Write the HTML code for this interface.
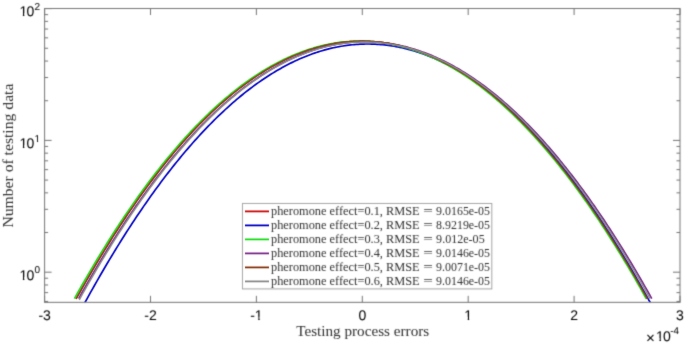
<!DOCTYPE html>
<html><head><meta charset="utf-8"><style>
html,body{margin:0;padding:0;background:#fff;width:685px;height:345px;overflow:hidden}
svg{display:block}
</style></head><body>
<svg width="685" height="345" viewBox="0 0 685 345">
<rect width="685" height="345" fill="#fff"/>
<filter id="soft" filterUnits="userSpaceOnUse" x="0" y="0" width="685" height="345"><feConvolveMatrix order="3" kernelMatrix="0.0225 0.1050 0.0225 0.1050 0.4900 0.1050 0.0225 0.1050 0.0225" divisor="1" preserveAlpha="false"/></filter>
<filter id="soft2" filterUnits="userSpaceOnUse" x="0" y="0" width="685" height="345"><feConvolveMatrix order="3" kernelMatrix="0.0064 0.0672 0.0064 0.0672 0.7056 0.0672 0.0064 0.0672 0.0064" divisor="1" preserveAlpha="false"/></filter>
<clipPath id="c1_0"><path d="M17.63,2.20H27.41V13.33H24.33V18.20H22.89V13.33H17.63Z"/></clipPath><clipPath id="c1_1"><path d="M17.63,134.00H27.41V145.13H24.33V150.00H22.89V145.13H17.63Z"/></clipPath><clipPath id="c1_2"><path d="M33.60,131.60H41.16V139.55H38.08V143.60H37.04V139.55H33.60Z"/></clipPath><clipPath id="c1_3"><path d="M17.63,265.80H27.41V276.93H24.33V281.80H22.89V276.93H17.63Z"/></clipPath><clipPath id="c1_4"><path d="M253.84,305.60H263.62V316.73H259.71V321.60H258.26V316.73H253.84Z"/></clipPath><clipPath id="c1_5"><path d="M463.31,305.60H473.09V316.73H469.17V321.60H467.72V316.73H463.31Z"/></clipPath><clipPath id="c1_6"><path d="M654.20,327.00H663.99V338.13H660.91V343.00H659.46V338.13H654.20Z"/></clipPath>
<clipPath id="cp"><rect x="44.6" y="8.5" width="635.4" height="293.85"/></clipPath>
<g filter="url(#soft2)"><g fill="none" stroke-width="1.7" stroke-linejoin="round" clip-path="url(#cp)"><path d="M76.09,298.90 L78.00,295.47 L79.90,292.07 L81.80,288.69 L83.71,285.33 L85.61,282.00 L87.52,278.69 L89.42,275.40 L91.33,272.13 L93.23,268.89 L95.14,265.67 L97.04,262.47 L98.94,259.30 L100.85,256.15 L102.75,253.02 L104.66,249.91 L106.56,246.83 L108.47,243.77 L110.37,240.74 L112.28,237.72 L114.18,234.73 L116.08,231.76 L117.99,228.82 L119.89,225.90 L121.80,223.00 L123.70,220.12 L125.61,217.27 L127.51,214.44 L129.42,211.63 L131.32,208.85 L133.22,206.08 L135.13,203.35 L137.03,200.63 L138.94,197.94 L140.84,195.27 L142.75,192.62 L144.65,190.00 L146.56,187.39 L148.46,184.82 L150.36,182.26 L152.27,179.73 L154.17,177.22 L156.08,174.73 L157.98,172.27 L159.89,169.83 L161.79,167.41 L163.70,165.02 L165.60,162.64 L167.50,160.29 L169.41,157.97 L171.31,155.67 L173.22,153.39 L175.12,151.13 L177.03,148.89 L178.93,146.68 L180.84,144.49 L182.74,142.33 L184.64,140.18 L186.55,138.06 L188.45,135.97 L190.36,133.89 L192.26,131.84 L194.17,129.81 L196.07,127.81 L197.98,125.83 L199.88,123.87 L201.78,121.93 L203.69,120.02 L205.59,118.13 L207.50,116.26 L209.40,114.41 L211.31,112.59 L213.21,110.79 L215.12,109.02 L217.02,107.26 L218.92,105.53 L220.83,103.83 L222.73,102.14 L224.64,100.48 L226.54,98.84 L228.45,97.23 L230.35,95.63 L232.26,94.06 L234.16,92.52 L236.06,90.99 L237.97,89.49 L239.87,88.01 L241.78,86.56 L243.68,85.13 L245.59,83.72 L247.49,82.33 L249.40,80.97 L251.30,79.63 L253.20,78.31 L255.11,77.01 L257.01,75.74 L258.92,74.49 L260.82,73.27 L262.73,72.06 L264.63,70.88 L266.54,69.72 L268.44,68.59 L270.34,67.48 L272.25,66.39 L274.15,65.32 L276.06,64.28 L277.96,63.26 L279.87,62.27 L281.77,61.29 L283.68,60.34 L285.58,59.41 L287.48,58.51 L289.39,57.62 L291.29,56.76 L293.20,55.93 L295.10,55.11 L297.01,54.32 L298.91,53.56 L300.82,52.81 L302.72,52.09 L304.62,51.39 L306.53,50.71 L308.43,50.06 L310.34,49.43 L312.24,48.82 L314.15,48.24 L316.05,47.68 L317.96,47.14 L319.86,46.62 L321.76,46.13 L323.67,45.66 L325.57,45.21 L327.48,44.79 L329.38,44.39 L331.29,44.01 L333.19,43.66 L335.10,43.32 L337.00,43.01 L338.90,42.73 L340.81,42.46 L342.71,42.22 L344.62,42.01 L346.52,41.81 L348.43,41.64 L350.33,41.49 L352.24,41.36 L354.14,41.26 L356.04,41.18 L357.95,41.12 L359.85,41.09 L361.76,41.08 L363.66,41.09 L365.57,41.12 L367.47,41.18 L369.38,41.26 L371.28,41.36 L373.18,41.49 L375.09,41.64 L376.99,41.81 L378.90,42.01 L380.80,42.22 L382.71,42.46 L384.61,42.73 L386.52,43.01 L388.42,43.32 L390.32,43.66 L392.23,44.01 L394.13,44.39 L396.04,44.79 L397.94,45.21 L399.85,45.66 L401.75,46.13 L403.66,46.62 L405.56,47.14 L407.46,47.68 L409.37,48.24 L411.27,48.82 L413.18,49.43 L415.08,50.06 L416.99,50.71 L418.89,51.39 L420.80,52.09 L422.70,52.81 L424.60,53.56 L426.51,54.32 L428.41,55.11 L430.32,55.93 L432.22,56.76 L434.13,57.62 L436.03,58.51 L437.94,59.41 L439.84,60.34 L441.74,61.29 L443.65,62.27 L445.55,63.26 L447.46,64.28 L449.36,65.32 L451.27,66.39 L453.17,67.48 L455.08,68.59 L456.98,69.72 L458.88,70.88 L460.79,72.06 L462.69,73.27 L464.60,74.49 L466.50,75.74 L468.41,77.01 L470.31,78.31 L472.22,79.63 L474.12,80.97 L476.02,82.33 L477.93,83.72 L479.83,85.13 L481.74,86.56 L483.64,88.01 L485.55,89.49 L487.45,90.99 L489.36,92.52 L491.26,94.06 L493.16,95.63 L495.07,97.23 L496.97,98.84 L498.88,100.48 L500.78,102.14 L502.69,103.83 L504.59,105.53 L506.50,107.26 L508.40,109.02 L510.30,110.79 L512.21,112.59 L514.11,114.41 L516.02,116.26 L517.92,118.13 L519.83,120.02 L521.73,121.93 L523.64,123.87 L525.54,125.83 L527.44,127.81 L529.35,129.81 L531.25,131.84 L533.16,133.89 L535.06,135.97 L536.97,138.06 L538.87,140.18 L540.78,142.33 L542.68,144.49 L544.58,146.68 L546.49,148.89 L548.39,151.13 L550.30,153.39 L552.20,155.67 L554.11,157.97 L556.01,160.29 L557.92,162.64 L559.82,165.02 L561.72,167.41 L563.63,169.83 L565.53,172.27 L567.44,174.73 L569.34,177.22 L571.25,179.73 L573.15,182.26 L575.06,184.82 L576.96,187.39 L578.86,190.00 L580.77,192.62 L582.67,195.27 L584.58,197.94 L586.48,200.63 L588.39,203.35 L590.29,206.08 L592.20,208.85 L594.10,211.63 L596.00,214.44 L597.91,217.27 L599.81,220.12 L601.72,223.00 L603.62,225.90 L605.53,228.82 L607.43,231.76 L609.34,234.73 L611.24,237.72 L613.14,240.74 L615.05,243.77 L616.95,246.83 L618.86,249.91 L620.76,253.02 L622.67,256.15 L624.57,259.30 L626.48,262.47 L628.38,265.67 L630.28,268.89 L632.19,272.13 L634.09,275.40 L636.00,278.69 L637.90,282.00 L639.81,285.33 L641.71,288.69 L643.62,292.07 L645.52,295.47 L647.42,298.90" stroke="#cc0c0c" stroke-width="1.45"/><path d="M83.08,306.00 L84.98,302.52 L86.87,299.06 L88.77,295.62 L90.67,292.21 L92.56,288.82 L94.46,285.46 L96.36,282.12 L98.25,278.80 L100.15,275.50 L102.05,272.23 L103.94,268.98 L105.84,265.76 L107.74,262.55 L109.63,259.38 L111.53,256.22 L113.43,253.09 L115.32,249.98 L117.22,246.89 L119.12,243.83 L121.01,240.79 L122.91,237.77 L124.81,234.78 L126.70,231.81 L128.60,228.87 L130.50,225.94 L132.39,223.04 L134.29,220.17 L136.19,217.32 L138.08,214.49 L139.98,211.68 L141.88,208.90 L143.77,206.14 L145.67,203.40 L147.57,200.69 L149.46,198.00 L151.36,195.33 L153.26,192.69 L155.15,190.07 L157.05,187.47 L158.95,184.90 L160.84,182.35 L162.74,179.82 L164.64,177.32 L166.53,174.84 L168.43,172.38 L170.33,169.95 L172.23,167.53 L174.12,165.15 L176.02,162.78 L177.92,160.44 L179.81,158.13 L181.71,155.83 L183.61,153.56 L185.50,151.31 L187.40,149.09 L189.30,146.89 L191.19,144.71 L193.09,142.56 L194.99,140.43 L196.88,138.32 L198.78,136.23 L200.68,134.17 L202.57,132.14 L204.47,130.12 L206.37,128.13 L208.26,126.16 L210.16,124.22 L212.06,122.30 L213.95,120.40 L215.85,118.52 L217.75,116.67 L219.64,114.84 L221.54,113.04 L223.44,111.26 L225.33,109.50 L227.23,107.76 L229.13,106.05 L231.02,104.36 L232.92,102.70 L234.82,101.06 L236.71,99.44 L238.61,97.84 L240.51,96.27 L242.40,94.72 L244.30,93.20 L246.20,91.69 L248.09,90.22 L249.99,88.76 L251.89,87.33 L253.78,85.92 L255.68,84.53 L257.58,83.17 L259.47,81.83 L261.37,80.52 L263.27,79.22 L265.16,77.95 L267.06,76.71 L268.96,75.48 L270.85,74.29 L272.75,73.11 L274.65,71.96 L276.55,70.83 L278.44,69.72 L280.34,68.64 L282.24,67.58 L284.13,66.54 L286.03,65.53 L287.93,64.54 L289.82,63.57 L291.72,62.63 L293.62,61.71 L295.51,60.81 L297.41,59.94 L299.31,59.09 L301.20,58.26 L303.10,57.46 L305.00,56.68 L306.89,55.92 L308.79,55.19 L310.69,54.48 L312.58,53.79 L314.48,53.13 L316.38,52.49 L318.27,51.87 L320.17,51.28 L322.07,50.71 L323.96,50.16 L325.86,49.63 L327.76,49.13 L329.65,48.66 L331.55,48.20 L333.45,47.77 L335.34,47.36 L337.24,46.98 L339.14,46.62 L341.03,46.28 L342.93,45.97 L344.83,45.67 L346.72,45.41 L348.62,45.16 L350.52,44.94 L352.41,44.74 L354.31,44.57 L356.21,44.42 L358.10,44.29 L360.00,44.18 L361.90,44.10 L363.79,44.04 L365.69,44.01 L367.59,44.00 L369.48,44.01 L371.38,44.04 L373.28,44.10 L375.17,44.18 L377.07,44.29 L378.97,44.42 L380.87,44.57 L382.76,44.74 L384.66,44.94 L386.56,45.16 L388.45,45.41 L390.35,45.67 L392.25,45.97 L394.14,46.28 L396.04,46.62 L397.94,46.98 L399.83,47.36 L401.73,47.77 L403.63,48.20 L405.52,48.66 L407.42,49.13 L409.32,49.63 L411.21,50.16 L413.11,50.71 L415.01,51.28 L416.90,51.87 L418.80,52.49 L420.70,53.13 L422.59,53.79 L424.49,54.48 L426.39,55.19 L428.28,55.92 L430.18,56.68 L432.08,57.46 L433.97,58.26 L435.87,59.09 L437.77,59.94 L439.66,60.81 L441.56,61.71 L443.46,62.63 L445.35,63.57 L447.25,64.54 L449.15,65.53 L451.04,66.54 L452.94,67.58 L454.84,68.64 L456.73,69.72 L458.63,70.83 L460.53,71.96 L462.42,73.11 L464.32,74.29 L466.22,75.48 L468.11,76.71 L470.01,77.95 L471.91,79.22 L473.80,80.52 L475.70,81.83 L477.60,83.17 L479.49,84.53 L481.39,85.92 L483.29,87.33 L485.19,88.76 L487.08,90.22 L488.98,91.69 L490.88,93.20 L492.77,94.72 L494.67,96.27 L496.57,97.84 L498.46,99.44 L500.36,101.06 L502.26,102.70 L504.15,104.36 L506.05,106.05 L507.95,107.76 L509.84,109.50 L511.74,111.26 L513.64,113.04 L515.53,114.84 L517.43,116.67 L519.33,118.52 L521.22,120.40 L523.12,122.30 L525.02,124.22 L526.91,126.16 L528.81,128.13 L530.71,130.12 L532.60,132.14 L534.50,134.17 L536.40,136.23 L538.29,138.32 L540.19,140.43 L542.09,142.56 L543.98,144.71 L545.88,146.89 L547.78,149.09 L549.67,151.31 L551.57,153.56 L553.47,155.83 L555.36,158.13 L557.26,160.44 L559.16,162.78 L561.05,165.15 L562.95,167.53 L564.85,169.95 L566.74,172.38 L568.64,174.84 L570.54,177.32 L572.43,179.82 L574.33,182.35 L576.23,184.90 L578.12,187.47 L580.02,190.07 L581.92,192.69 L583.81,195.33 L585.71,198.00 L587.61,200.69 L589.51,203.40 L591.40,206.14 L593.30,208.90 L595.20,211.68 L597.09,214.49 L598.99,217.32 L600.89,220.17 L602.78,223.04 L604.68,225.94 L606.58,228.87 L608.47,231.81 L610.37,234.78 L612.27,237.77 L614.16,240.79 L616.06,243.83 L617.96,246.89 L619.85,249.98 L621.75,253.09 L623.65,256.22 L625.54,259.38 L627.44,262.55 L629.34,265.76 L631.23,268.98 L633.13,272.23 L635.03,275.50 L636.92,278.80 L638.82,282.12 L640.72,285.46 L642.61,288.82 L644.51,292.21 L646.41,295.62 L648.30,299.06 L650.20,302.52 L652.10,306.00" stroke="#0606c4" stroke-width="1.7"/><path d="M74.47,298.60 L76.37,295.18 L78.28,291.78 L80.19,288.40 L82.09,285.04 L84.00,281.71 L85.91,278.40 L87.81,275.12 L89.72,271.86 L91.62,268.62 L93.53,265.40 L95.44,262.20 L97.34,259.03 L99.25,255.89 L101.16,252.76 L103.06,249.66 L104.97,246.58 L106.88,243.52 L108.78,240.49 L110.69,237.48 L112.60,234.49 L114.50,231.52 L116.41,228.58 L118.31,225.66 L120.22,222.77 L122.13,219.89 L124.03,217.04 L125.94,214.21 L127.85,211.41 L129.75,208.63 L131.66,205.87 L133.57,203.13 L135.47,200.42 L137.38,197.73 L139.29,195.06 L141.19,192.42 L143.10,189.80 L145.00,187.20 L146.91,184.62 L148.82,182.07 L150.72,179.54 L152.63,177.03 L154.54,174.55 L156.44,172.09 L158.35,169.65 L160.26,167.23 L162.16,164.84 L164.07,162.47 L165.98,160.12 L167.88,157.80 L169.79,155.50 L171.69,153.22 L173.60,150.97 L175.51,148.73 L177.41,146.52 L179.32,144.34 L181.23,142.17 L183.13,140.03 L185.04,137.92 L186.95,135.82 L188.85,133.75 L190.76,131.70 L192.67,129.67 L194.57,127.67 L196.48,125.69 L198.38,123.73 L200.29,121.80 L202.20,119.89 L204.10,118.00 L206.01,116.13 L207.92,114.29 L209.82,112.47 L211.73,110.67 L213.64,108.90 L215.54,107.15 L217.45,105.42 L219.36,103.72 L221.26,102.03 L223.17,100.37 L225.07,98.74 L226.98,97.12 L228.89,95.53 L230.79,93.96 L232.70,92.42 L234.61,90.90 L236.51,89.40 L238.42,87.92 L240.33,86.47 L242.23,85.04 L244.14,83.63 L246.05,82.25 L247.95,80.88 L249.86,79.54 L251.76,78.23 L253.67,76.94 L255.58,75.67 L257.48,74.42 L259.39,73.19 L261.30,71.99 L263.20,70.81 L265.11,69.66 L267.02,68.53 L268.92,67.42 L270.83,66.33 L272.74,65.26 L274.64,64.22 L276.55,63.21 L278.45,62.21 L280.36,61.24 L282.27,60.29 L284.17,59.36 L286.08,58.46 L287.99,57.58 L289.89,56.72 L291.80,55.88 L293.71,55.07 L295.61,54.28 L297.52,53.52 L299.43,52.77 L301.33,52.05 L303.24,51.35 L305.14,50.68 L307.05,50.03 L308.96,49.40 L310.86,48.79 L312.77,48.21 L314.68,47.65 L316.58,47.11 L318.49,46.60 L320.40,46.11 L322.30,45.64 L324.21,45.19 L326.12,44.77 L328.02,44.37 L329.93,43.99 L331.83,43.64 L333.74,43.31 L335.65,43.00 L337.55,42.71 L339.46,42.45 L341.37,42.21 L343.27,42.00 L345.18,41.80 L347.09,41.63 L348.99,41.48 L350.90,41.36 L352.81,41.26 L354.71,41.18 L356.62,41.12 L358.53,41.09 L360.43,41.08 L362.34,41.09 L364.24,41.13 L366.15,41.18 L368.06,41.27 L369.96,41.37 L371.87,41.50 L373.78,41.65 L375.68,41.82 L377.59,42.01 L379.50,42.23 L381.40,42.47 L383.31,42.74 L385.22,43.03 L387.12,43.34 L389.03,43.67 L390.93,44.03 L392.84,44.40 L394.75,44.81 L396.65,45.23 L398.56,45.68 L400.47,46.15 L402.37,46.64 L404.28,47.16 L406.19,47.70 L408.09,48.26 L410.00,48.85 L411.91,49.45 L413.81,50.08 L415.72,50.74 L417.62,51.41 L419.53,52.11 L421.44,52.84 L423.34,53.58 L425.25,54.35 L427.16,55.14 L429.06,55.96 L430.97,56.79 L432.88,57.65 L434.78,58.54 L436.69,59.44 L438.60,60.37 L440.50,61.32 L442.41,62.30 L444.31,63.29 L446.22,64.31 L448.13,65.36 L450.03,66.42 L451.94,67.51 L453.85,68.62 L455.75,69.76 L457.66,70.92 L459.57,72.10 L461.47,73.30 L463.38,74.53 L465.29,75.78 L467.19,77.05 L469.10,78.34 L471.00,79.66 L472.91,81.00 L474.82,82.37 L476.72,83.75 L478.63,85.16 L480.54,86.59 L482.44,88.05 L484.35,89.53 L486.26,91.03 L488.16,92.55 L490.07,94.10 L491.98,95.67 L493.88,97.26 L495.79,98.88 L497.69,100.52 L499.60,102.18 L501.51,103.86 L503.41,105.57 L505.32,107.30 L507.23,109.05 L509.13,110.83 L511.04,112.63 L512.95,114.45 L514.85,116.30 L516.76,118.16 L518.67,120.05 L520.57,121.97 L522.48,123.90 L524.38,125.86 L526.29,127.85 L528.20,129.85 L530.10,131.88 L532.01,133.93 L533.92,136.00 L535.82,138.10 L537.73,140.22 L539.64,142.36 L541.54,144.53 L543.45,146.72 L545.36,148.93 L547.26,151.16 L549.17,153.42 L551.07,155.70 L552.98,158.00 L554.89,160.33 L556.79,162.68 L558.70,165.05 L560.61,167.44 L562.51,169.86 L564.42,172.30 L566.33,174.76 L568.23,177.25 L570.14,179.76 L572.05,182.29 L573.95,184.84 L575.86,187.42 L577.76,190.02 L579.67,192.65 L581.58,195.29 L583.48,197.96 L585.39,200.65 L587.30,203.37 L589.20,206.11 L591.11,208.87 L593.02,211.65 L594.92,214.46 L596.83,217.29 L598.74,220.14 L600.64,223.02 L602.55,225.92 L604.45,228.84 L606.36,231.78 L608.27,234.75 L610.17,237.74 L612.08,240.75 L613.99,243.79 L615.89,246.85 L617.80,249.93 L619.71,253.03 L621.61,256.16 L623.52,259.31 L625.43,262.48 L627.33,265.68 L629.24,268.90 L631.14,272.14 L633.05,275.40 L634.96,278.69 L636.86,282.00 L638.77,285.34 L640.68,288.69 L642.58,292.07 L644.49,295.47 L646.40,298.90" stroke="#14dc14" stroke-width="1.7"/><path d="M78.67,298.60 L80.58,295.19 L82.49,291.79 L84.40,288.43 L86.32,285.08 L88.23,281.76 L90.14,278.46 L92.05,275.18 L93.96,271.92 L95.87,268.69 L97.78,265.48 L99.69,262.30 L101.60,259.13 L103.51,255.99 L105.42,252.88 L107.33,249.78 L109.24,246.71 L111.15,243.66 L113.06,240.64 L114.97,237.63 L116.88,234.65 L118.79,231.69 L120.70,228.76 L122.61,225.85 L124.52,222.96 L126.43,220.09 L128.34,217.25 L130.25,214.43 L132.16,211.63 L134.07,208.86 L135.98,206.10 L137.89,203.37 L139.80,200.67 L141.71,197.98 L143.62,195.32 L145.53,192.69 L147.44,190.07 L149.35,187.48 L151.26,184.91 L153.17,182.36 L155.08,179.84 L156.99,177.34 L158.91,174.86 L160.82,172.41 L162.73,169.97 L164.64,167.56 L166.55,165.18 L168.46,162.81 L170.37,160.47 L172.28,158.15 L174.19,155.86 L176.10,153.59 L178.01,151.34 L179.92,149.11 L181.83,146.91 L183.74,144.73 L185.65,142.57 L187.56,140.43 L189.47,138.32 L191.38,136.23 L193.29,134.16 L195.20,132.12 L197.11,130.10 L199.02,128.10 L200.93,126.12 L202.84,124.17 L204.75,122.24 L206.66,120.33 L208.57,118.45 L210.48,116.59 L212.39,114.75 L214.30,112.93 L216.21,111.14 L218.12,109.37 L220.03,107.62 L221.94,105.90 L223.85,104.20 L225.76,102.52 L227.67,100.86 L229.58,99.23 L231.50,97.62 L233.41,96.03 L235.32,94.47 L237.23,92.93 L239.14,91.41 L241.05,89.91 L242.96,88.44 L244.87,86.99 L246.78,85.56 L248.69,84.16 L250.60,82.78 L252.51,81.42 L254.42,80.08 L256.33,78.77 L258.24,77.48 L260.15,76.21 L262.06,74.96 L263.97,73.74 L265.88,72.54 L267.79,71.37 L269.70,70.21 L271.61,69.08 L273.52,67.98 L275.43,66.89 L277.34,65.83 L279.25,64.79 L281.16,63.77 L283.07,62.78 L284.98,61.81 L286.89,60.86 L288.80,59.94 L290.71,59.04 L292.62,58.16 L294.53,57.30 L296.44,56.47 L298.35,55.65 L300.26,54.87 L302.17,54.10 L304.09,53.36 L306.00,52.64 L307.91,51.94 L309.82,51.27 L311.73,50.62 L313.64,49.99 L315.55,49.39 L317.46,48.80 L319.37,48.24 L321.28,47.71 L323.19,47.19 L325.10,46.70 L327.01,46.23 L328.92,45.79 L330.83,45.37 L332.74,44.97 L334.65,44.59 L336.56,44.24 L338.47,43.90 L340.38,43.60 L342.29,43.31 L344.20,43.05 L346.11,42.81 L348.02,42.59 L349.93,42.40 L351.84,42.23 L353.75,42.08 L355.66,41.95 L357.57,41.85 L359.48,41.77 L361.39,41.71 L363.30,41.68 L365.21,41.67 L367.12,41.68 L369.03,41.71 L370.94,41.77 L372.85,41.85 L374.76,41.95 L376.68,42.08 L378.59,42.23 L380.50,42.40 L382.41,42.59 L384.32,42.81 L386.23,43.05 L388.14,43.31 L390.05,43.60 L391.96,43.90 L393.87,44.24 L395.78,44.59 L397.69,44.97 L399.60,45.37 L401.51,45.79 L403.42,46.23 L405.33,46.70 L407.24,47.19 L409.15,47.71 L411.06,48.24 L412.97,48.80 L414.88,49.39 L416.79,49.99 L418.70,50.62 L420.61,51.27 L422.52,51.94 L424.43,52.64 L426.34,53.36 L428.25,54.10 L430.16,54.87 L432.07,55.65 L433.98,56.47 L435.89,57.30 L437.80,58.16 L439.71,59.04 L441.62,59.94 L443.53,60.86 L445.44,61.81 L447.35,62.78 L449.27,63.77 L451.18,64.79 L453.09,65.83 L455.00,66.89 L456.91,67.98 L458.82,69.08 L460.73,70.21 L462.64,71.37 L464.55,72.54 L466.46,73.74 L468.37,74.96 L470.28,76.21 L472.19,77.48 L474.10,78.77 L476.01,80.08 L477.92,81.42 L479.83,82.78 L481.74,84.16 L483.65,85.56 L485.56,86.99 L487.47,88.44 L489.38,89.91 L491.29,91.41 L493.20,92.93 L495.11,94.47 L497.02,96.03 L498.93,97.62 L500.84,99.23 L502.75,100.86 L504.66,102.52 L506.57,104.20 L508.48,105.90 L510.39,107.62 L512.30,109.37 L514.21,111.14 L516.12,112.93 L518.03,114.75 L519.94,116.59 L521.86,118.45 L523.77,120.33 L525.68,122.24 L527.59,124.17 L529.50,126.12 L531.41,128.10 L533.32,130.10 L535.23,132.12 L537.14,134.16 L539.05,136.23 L540.96,138.32 L542.87,140.43 L544.78,142.57 L546.69,144.73 L548.60,146.91 L550.51,149.11 L552.42,151.34 L554.33,153.59 L556.24,155.86 L558.15,158.15 L560.06,160.47 L561.97,162.81 L563.88,165.18 L565.79,167.56 L567.70,169.97 L569.61,172.41 L571.52,174.86 L573.43,177.34 L575.34,179.84 L577.25,182.36 L579.16,184.91 L581.07,187.48 L582.98,190.07 L584.89,192.69 L586.80,195.32 L588.71,197.98 L590.62,200.67 L592.53,203.37 L594.45,206.10 L596.36,208.86 L598.27,211.63 L600.18,214.43 L602.09,217.25 L604.00,220.09 L605.91,222.96 L607.82,225.85 L609.73,228.76 L611.64,231.69 L613.55,234.65 L615.46,237.63 L617.37,240.64 L619.28,243.66 L621.19,246.71 L623.10,249.78 L625.01,252.88 L626.92,255.99 L628.83,259.13 L630.74,262.30 L632.65,265.48 L634.56,268.69 L636.47,271.92 L638.38,275.18 L640.29,278.46 L642.20,281.76 L644.11,285.08 L646.02,288.43 L647.93,291.79 L649.84,295.19 L651.75,298.60" stroke="#7a2a8a" stroke-width="1.7"/><path d="M76.09,298.90 L78.00,295.47 L79.90,292.07 L81.80,288.69 L83.71,285.33 L85.61,282.00 L87.52,278.69 L89.42,275.40 L91.33,272.13 L93.23,268.89 L95.14,265.67 L97.04,262.47 L98.94,259.30 L100.85,256.15 L102.75,253.02 L104.66,249.91 L106.56,246.83 L108.47,243.77 L110.37,240.74 L112.28,237.72 L114.18,234.73 L116.08,231.76 L117.99,228.82 L119.89,225.90 L121.80,223.00 L123.70,220.12 L125.61,217.27 L127.51,214.44 L129.42,211.63 L131.32,208.85 L133.22,206.08 L135.13,203.35 L137.03,200.63 L138.94,197.94 L140.84,195.27 L142.75,192.62 L144.65,190.00 L146.56,187.39 L148.46,184.82 L150.36,182.26 L152.27,179.73 L154.17,177.22 L156.08,174.73 L157.98,172.27 L159.89,169.83 L161.79,167.41 L163.70,165.02 L165.60,162.64 L167.50,160.29 L169.41,157.97 L171.31,155.67 L173.22,153.39 L175.12,151.13 L177.03,148.89 L178.93,146.68 L180.84,144.49 L182.74,142.33 L184.64,140.18 L186.55,138.06 L188.45,135.97 L190.36,133.89 L192.26,131.84 L194.17,129.81 L196.07,127.81 L197.98,125.83 L199.88,123.87 L201.78,121.93 L203.69,120.02 L205.59,118.13 L207.50,116.26 L209.40,114.41 L211.31,112.59 L213.21,110.79 L215.12,109.02 L217.02,107.26 L218.92,105.53 L220.83,103.83 L222.73,102.14 L224.64,100.48 L226.54,98.84 L228.45,97.23 L230.35,95.63 L232.26,94.06 L234.16,92.52 L236.06,90.99 L237.97,89.49 L239.87,88.01 L241.78,86.56 L243.68,85.13 L245.59,83.72 L247.49,82.33 L249.40,80.97 L251.30,79.63 L253.20,78.31 L255.11,77.01 L257.01,75.74 L258.92,74.49 L260.82,73.27 L262.73,72.06 L264.63,70.88 L266.54,69.72 L268.44,68.59 L270.34,67.48 L272.25,66.39 L274.15,65.32 L276.06,64.28 L277.96,63.26 L279.87,62.27 L281.77,61.29 L283.68,60.34 L285.58,59.41 L287.48,58.51 L289.39,57.62 L291.29,56.76 L293.20,55.93 L295.10,55.11 L297.01,54.32 L298.91,53.56 L300.82,52.81 L302.72,52.09 L304.62,51.39 L306.53,50.71 L308.43,50.06 L310.34,49.43 L312.24,48.82 L314.15,48.24 L316.05,47.68 L317.96,47.14 L319.86,46.62 L321.76,46.13 L323.67,45.66 L325.57,45.21 L327.48,44.79 L329.38,44.39 L331.29,44.01 L333.19,43.66 L335.10,43.32 L337.00,43.01 L338.90,42.73 L340.81,42.46 L342.71,42.22 L344.62,42.01 L346.52,41.81 L348.43,41.64 L350.33,41.49 L352.24,41.36 L354.14,41.26 L356.04,41.18 L357.95,41.12 L359.85,41.09 L361.76,41.08 L363.66,41.09 L365.57,41.12 L367.47,41.18 L369.38,41.26 L371.28,41.36 L373.18,41.49 L375.09,41.64 L376.99,41.81 L378.90,42.01 L380.80,42.22 L382.71,42.46 L384.61,42.73 L386.52,43.01 L388.42,43.32 L390.32,43.66 L392.23,44.01 L394.13,44.39 L396.04,44.79 L397.94,45.21 L399.85,45.66 L401.75,46.13 L403.66,46.62 L405.56,47.14 L407.46,47.68 L409.37,48.24 L411.27,48.82 L413.18,49.43 L415.08,50.06 L416.99,50.71 L418.89,51.39 L420.80,52.09 L422.70,52.81 L424.60,53.56 L426.51,54.32 L428.41,55.11 L430.32,55.93 L432.22,56.76 L434.13,57.62 L436.03,58.51 L437.94,59.41 L439.84,60.34 L441.74,61.29 L443.65,62.27 L445.55,63.26 L447.46,64.28 L449.36,65.32 L451.27,66.39 L453.17,67.48 L455.08,68.59 L456.98,69.72 L458.88,70.88 L460.79,72.06 L462.69,73.27 L464.60,74.49 L466.50,75.74 L468.41,77.01 L470.31,78.31 L472.22,79.63 L474.12,80.97 L476.02,82.33 L477.93,83.72 L479.83,85.13 L481.74,86.56 L483.64,88.01 L485.55,89.49 L487.45,90.99 L489.36,92.52 L491.26,94.06 L493.16,95.63 L495.07,97.23 L496.97,98.84 L498.88,100.48 L500.78,102.14 L502.69,103.83 L504.59,105.53 L506.50,107.26 L508.40,109.02 L510.30,110.79 L512.21,112.59 L514.11,114.41 L516.02,116.26 L517.92,118.13 L519.83,120.02 L521.73,121.93 L523.64,123.87 L525.54,125.83 L527.44,127.81 L529.35,129.81 L531.25,131.84 L533.16,133.89 L535.06,135.97 L536.97,138.06 L538.87,140.18 L540.78,142.33 L542.68,144.49 L544.58,146.68 L546.49,148.89 L548.39,151.13 L550.30,153.39 L552.20,155.67 L554.11,157.97 L556.01,160.29 L557.92,162.64 L559.82,165.02 L561.72,167.41 L563.63,169.83 L565.53,172.27 L567.44,174.73 L569.34,177.22 L571.25,179.73 L573.15,182.26 L575.06,184.82 L576.96,187.39 L578.86,190.00 L580.77,192.62 L582.67,195.27 L584.58,197.94 L586.48,200.63 L588.39,203.35 L590.29,206.08 L592.20,208.85 L594.10,211.63 L596.00,214.44 L597.91,217.27 L599.81,220.12 L601.72,223.00 L603.62,225.90 L605.53,228.82 L607.43,231.76 L609.34,234.73 L611.24,237.72 L613.14,240.74 L615.05,243.77 L616.95,246.83 L618.86,249.91 L620.76,253.02 L622.67,256.15 L624.57,259.30 L626.48,262.47 L628.38,265.67 L630.28,268.89 L632.19,272.13 L634.09,275.40 L636.00,278.69 L637.90,282.00 L639.81,285.33 L641.71,288.69 L643.62,292.07 L645.52,295.47 L647.42,298.90" stroke="#86360f" stroke-width="1.45"/><path d="M79.30,299.80 L81.20,296.38 L83.11,292.98 L85.01,289.60 L86.91,286.25 L88.81,282.92 L90.72,279.61 L92.62,276.33 L94.52,273.06 L96.42,269.83 L98.33,266.61 L100.23,263.42 L102.13,260.25 L104.04,257.10 L105.94,253.97 L107.84,250.87 L109.74,247.79 L111.65,244.74 L113.55,241.70 L115.45,238.69 L117.35,235.70 L119.26,232.74 L121.16,229.80 L123.06,226.88 L124.96,223.98 L126.87,221.11 L128.77,218.26 L130.67,215.43 L132.57,212.63 L134.48,209.84 L136.38,207.09 L138.28,204.35 L140.18,201.64 L142.09,198.95 L143.99,196.28 L145.89,193.63 L147.79,191.01 L149.70,188.41 L151.60,185.84 L153.50,183.28 L155.41,180.75 L157.31,178.25 L159.21,175.76 L161.11,173.30 L163.02,170.86 L164.92,168.44 L166.82,166.05 L168.72,163.68 L170.63,161.33 L172.53,159.01 L174.43,156.71 L176.33,154.43 L178.24,152.17 L180.14,149.94 L182.04,147.73 L183.94,145.54 L185.85,143.38 L187.75,141.24 L189.65,139.12 L191.55,137.02 L193.46,134.95 L195.36,132.90 L197.26,130.87 L199.16,128.87 L201.07,126.88 L202.97,124.93 L204.87,122.99 L206.78,121.08 L208.68,119.19 L210.58,117.32 L212.48,115.47 L214.39,113.65 L216.29,111.85 L218.19,110.08 L220.09,108.33 L222.00,106.60 L223.90,104.89 L225.80,103.20 L227.70,101.54 L229.61,99.90 L231.51,98.29 L233.41,96.69 L235.31,95.12 L237.22,93.58 L239.12,92.05 L241.02,90.55 L242.92,89.07 L244.83,87.62 L246.73,86.18 L248.63,84.77 L250.53,83.39 L252.44,82.02 L254.34,80.68 L256.24,79.36 L258.14,78.07 L260.05,76.79 L261.95,75.54 L263.85,74.32 L265.76,73.11 L267.66,71.93 L269.56,70.77 L271.46,69.64 L273.37,68.52 L275.27,67.43 L277.17,66.37 L279.07,65.32 L280.98,64.30 L282.88,63.30 L284.78,62.33 L286.68,61.37 L288.59,60.44 L290.49,59.54 L292.39,58.65 L294.29,57.79 L296.20,56.95 L298.10,56.14 L300.00,55.34 L301.90,54.57 L303.81,53.83 L305.71,53.10 L307.61,52.40 L309.51,51.72 L311.42,51.07 L313.32,50.44 L315.22,49.83 L317.13,49.24 L319.03,48.67 L320.93,48.13 L322.83,47.61 L324.74,47.12 L326.64,46.65 L328.54,46.20 L330.44,45.77 L332.35,45.37 L334.25,44.98 L336.15,44.63 L338.05,44.29 L339.96,43.98 L341.86,43.69 L343.76,43.42 L345.66,43.18 L347.57,42.96 L349.47,42.76 L351.37,42.58 L353.27,42.43 L355.18,42.30 L357.08,42.19 L358.98,42.11 L360.88,42.05 L362.79,42.01 L364.69,41.99 L366.59,42.00 L368.50,42.03 L370.40,42.08 L372.30,42.16 L374.20,42.26 L376.11,42.38 L378.01,42.53 L379.91,42.69 L381.81,42.88 L383.72,43.10 L385.62,43.33 L387.52,43.59 L389.42,43.87 L391.33,44.18 L393.23,44.51 L395.13,44.86 L397.03,45.23 L398.94,45.63 L400.84,46.04 L402.74,46.49 L404.64,46.95 L406.55,47.44 L408.45,47.95 L410.35,48.48 L412.25,49.04 L414.16,49.62 L416.06,50.22 L417.96,50.84 L419.87,51.49 L421.77,52.16 L423.67,52.86 L425.57,53.57 L427.48,54.31 L429.38,55.07 L431.28,55.86 L433.18,56.67 L435.09,57.50 L436.99,58.35 L438.89,59.23 L440.79,60.12 L442.70,61.05 L444.60,61.99 L446.50,62.96 L448.40,63.95 L450.31,64.96 L452.21,66.00 L454.11,67.06 L456.01,68.14 L457.92,69.24 L459.82,70.37 L461.72,71.52 L463.62,72.70 L465.53,73.89 L467.43,75.11 L469.33,76.35 L471.23,77.62 L473.14,78.91 L475.04,80.22 L476.94,81.55 L478.85,82.91 L480.75,84.29 L482.65,85.69 L484.55,87.11 L486.46,88.56 L488.36,90.03 L490.26,91.53 L492.16,93.04 L494.07,94.58 L495.97,96.14 L497.87,97.73 L499.77,99.34 L501.68,100.97 L503.58,102.62 L505.48,104.30 L507.38,106.00 L509.29,107.72 L511.19,109.46 L513.09,111.23 L514.99,113.02 L516.90,114.83 L518.80,116.67 L520.70,118.53 L522.60,120.41 L524.51,122.32 L526.41,124.25 L528.31,126.20 L530.22,128.17 L532.12,130.17 L534.02,132.19 L535.92,134.23 L537.83,136.29 L539.73,138.38 L541.63,140.49 L543.53,142.63 L545.44,144.78 L547.34,146.96 L549.24,149.16 L551.14,151.39 L553.05,153.64 L554.95,155.91 L556.85,158.20 L558.75,160.52 L560.66,162.86 L562.56,165.22 L564.46,167.60 L566.36,170.01 L568.27,172.44 L570.17,174.90 L572.07,177.37 L573.97,179.87 L575.88,182.40 L577.78,184.94 L579.68,187.51 L581.59,190.10 L583.49,192.71 L585.39,195.35 L587.29,198.01 L589.20,200.69 L591.10,203.40 L593.00,206.13 L594.90,208.88 L596.81,211.65 L598.71,214.45 L600.61,217.27 L602.51,220.11 L604.42,222.97 L606.32,225.86 L608.22,228.77 L610.12,231.71 L612.03,234.66 L613.93,237.64 L615.83,240.65 L617.73,243.67 L619.64,246.72 L621.54,249.79 L623.44,252.88 L625.34,256.00 L627.25,259.14 L629.15,262.30 L631.05,265.49 L632.96,268.70 L634.86,271.93 L636.76,275.18 L638.66,278.46 L640.57,281.76 L642.47,285.08 L644.37,288.43 L646.27,291.79 L648.18,295.19 L650.08,298.60" stroke="#8a8a8a" stroke-width="1.4"/></g></g>
<g filter="url(#soft)">
<g stroke="#747474" stroke-width="1" fill="none"><path d="M44.60,302.35V295.85M44.60,8.5V15.0"/><path d="M150.50,302.35V295.85M150.50,8.5V15.0"/><path d="M256.40,302.35V295.85M256.40,8.5V15.0"/><path d="M362.30,302.35V295.85M362.30,8.5V15.0"/><path d="M468.20,302.35V295.85M468.20,8.5V15.0"/><path d="M574.10,302.35V295.85M574.10,8.5V15.0"/><path d="M680.00,302.35V295.85M680.00,8.5V15.0"/><path d="M44.6,272.20H51.6M680.0,272.20H673.0"/><path d="M44.6,140.40H51.6M680.0,140.40H673.0"/><path d="M44.6,8.60H51.6M680.0,8.60H673.0"/><path d="M44.6,301.44H48.1M680.0,301.44H676.5"/><path d="M44.6,292.62H48.1M680.0,292.62H676.5"/><path d="M44.6,284.97H48.1M680.0,284.97H676.5"/><path d="M44.6,278.23H48.1M680.0,278.23H676.5"/><path d="M44.6,232.52H48.1M680.0,232.52H676.5"/><path d="M44.6,209.32H48.1M680.0,209.32H676.5"/><path d="M44.6,192.85H48.1M680.0,192.85H676.5"/><path d="M44.6,180.08H48.1M680.0,180.08H676.5"/><path d="M44.6,169.64H48.1M680.0,169.64H676.5"/><path d="M44.6,160.82H48.1M680.0,160.82H676.5"/><path d="M44.6,153.17H48.1M680.0,153.17H676.5"/><path d="M44.6,146.43H48.1M680.0,146.43H676.5"/><path d="M44.6,100.72H48.1M680.0,100.72H676.5"/><path d="M44.6,77.52H48.1M680.0,77.52H676.5"/><path d="M44.6,61.05H48.1M680.0,61.05H676.5"/><path d="M44.6,48.28H48.1M680.0,48.28H676.5"/><path d="M44.6,37.84H48.1M680.0,37.84H676.5"/><path d="M44.6,29.02H48.1M680.0,29.02H676.5"/><path d="M44.6,21.37H48.1M680.0,21.37H676.5"/><path d="M44.6,14.63H48.1M680.0,14.63H676.5"/></g>
<rect x="44.6" y="8.5" width="635.4" height="293.85" fill="none" stroke="#747474" stroke-width="1"/>
<rect x="242.5" y="203.5" width="249.3" height="85.4" fill="#fff" stroke="#a0a0a0" stroke-width="1"/>
</g>
<g filter="url(#soft2)"><path d="M245,211.40H269" stroke="#cc0c0c" stroke-width="1.8"/><path d="M245,225.40H269" stroke="#0606c4" stroke-width="1.8"/><path d="M245,239.40H269" stroke="#14dc14" stroke-width="1.8"/><path d="M245,253.40H269" stroke="#7a2a8a" stroke-width="1.8"/><path d="M245,267.40H269" stroke="#86360f" stroke-width="1.8"/><path d="M245,281.40H269" stroke="#8a8a8a" stroke-width="1.8"/></g>
<g filter="url(#soft)">
<g fill="#000000" stroke="#000000" stroke-width="0.0"><g clip-path="url(#c1_0)"><text x="19.47" y="16.20" font-family="Liberation Sans, sans-serif" stroke-width="0.04" text-rendering="geometricPrecision" font-size="14">1</text></g><text x="26.41" y="16.20" font-family="Liberation Sans, sans-serif" stroke-width="0.04" text-rendering="geometricPrecision" font-size="14">0</text><text x="34.60" y="9.80" font-family="Liberation Sans, sans-serif" stroke-width="0.04" text-rendering="geometricPrecision" font-size="10.0">2</text><g clip-path="url(#c1_1)"><text x="19.47" y="148.00" font-family="Liberation Sans, sans-serif" stroke-width="0.04" text-rendering="geometricPrecision" font-size="14">1</text></g><text x="26.41" y="148.00" font-family="Liberation Sans, sans-serif" stroke-width="0.04" text-rendering="geometricPrecision" font-size="14">0</text><g clip-path="url(#c1_2)"><text x="34.60" y="141.60" font-family="Liberation Sans, sans-serif" stroke-width="0.04" text-rendering="geometricPrecision" font-size="10.0">1</text></g><g clip-path="url(#c1_3)"><text x="19.47" y="279.80" font-family="Liberation Sans, sans-serif" stroke-width="0.04" text-rendering="geometricPrecision" font-size="14">1</text></g><text x="26.41" y="279.80" font-family="Liberation Sans, sans-serif" stroke-width="0.04" text-rendering="geometricPrecision" font-size="14">0</text><text x="34.60" y="273.40" font-family="Liberation Sans, sans-serif" stroke-width="0.04" text-rendering="geometricPrecision" font-size="10.0">0</text><text x="38.38" y="319.60" font-family="Liberation Sans, sans-serif" stroke-width="0.04" text-rendering="geometricPrecision" font-size="14">-3</text><text x="144.28" y="319.60" font-family="Liberation Sans, sans-serif" stroke-width="0.04" text-rendering="geometricPrecision" font-size="14">-2</text><text x="250.18" y="319.60" font-family="Liberation Sans, sans-serif" stroke-width="0.04" text-rendering="geometricPrecision" font-size="14">-</text><g clip-path="url(#c1_4)"><text x="254.84" y="319.60" font-family="Liberation Sans, sans-serif" stroke-width="0.04" text-rendering="geometricPrecision" font-size="14">1</text></g><text x="358.41" y="319.60" font-family="Liberation Sans, sans-serif" stroke-width="0.04" text-rendering="geometricPrecision" font-size="14">0</text><g clip-path="url(#c1_5)"><text x="464.31" y="319.60" font-family="Liberation Sans, sans-serif" stroke-width="0.04" text-rendering="geometricPrecision" font-size="14">1</text></g><text x="570.21" y="319.60" font-family="Liberation Sans, sans-serif" stroke-width="0.04" text-rendering="geometricPrecision" font-size="14">2</text><text x="676.11" y="319.60" font-family="Liberation Sans, sans-serif" stroke-width="0.04" text-rendering="geometricPrecision" font-size="14">3</text><text x="646.00" y="342.60" font-family="Liberation Sans, sans-serif" stroke-width="0.04" text-rendering="geometricPrecision" font-size="15.2">×</text><g clip-path="url(#c1_6)"><text x="656.04" y="341.00" font-family="Liberation Sans, sans-serif" stroke-width="0.04" text-rendering="geometricPrecision" font-size="14">1</text></g><text x="662.99" y="341.00" font-family="Liberation Sans, sans-serif" stroke-width="0.04" text-rendering="geometricPrecision" font-size="14">0</text><text x="670.20" y="334.20" font-family="Liberation Sans, sans-serif" stroke-width="0.04" text-rendering="geometricPrecision" font-size="9.8">-4</text><text x="296.2" y="335.7" font-family="Liberation Serif, serif" fill="#303030" font-size="14" textLength="133" lengthAdjust="spacingAndGlyphs">Testing process errors</text><text transform="translate(12.9,227.6) rotate(-90)" x="0" y="0" font-family="Liberation Serif, serif" fill="#303030" font-size="14" textLength="144.0" lengthAdjust="spacingAndGlyphs">Number of testing data</text><text x="271" y="215.30" font-family="Liberation Serif, serif" fill="#303030" font-size="11.6" textLength="148.6" lengthAdjust="spacingAndGlyphs">pheromone effect=0.1, RMSE</text><text x="423.35" y="215.30" font-family="Liberation Serif, serif" fill="#303030" font-size="11.6" textLength="9.6" lengthAdjust="spacingAndGlyphs">=</text><text x="436.1" y="215.30" font-family="Liberation Serif, serif" fill="#303030" font-size="11.6" textLength="53.9" lengthAdjust="spacingAndGlyphs">9.0165e-05</text><text x="271" y="229.30" font-family="Liberation Serif, serif" fill="#303030" font-size="11.6" textLength="148.6" lengthAdjust="spacingAndGlyphs">pheromone effect=0.2, RMSE</text><text x="423.35" y="229.30" font-family="Liberation Serif, serif" fill="#303030" font-size="11.6" textLength="9.6" lengthAdjust="spacingAndGlyphs">=</text><text x="436.1" y="229.30" font-family="Liberation Serif, serif" fill="#303030" font-size="11.6" textLength="53.9" lengthAdjust="spacingAndGlyphs">8.9219e-05</text><text x="271" y="243.30" font-family="Liberation Serif, serif" fill="#303030" font-size="11.6" textLength="148.6" lengthAdjust="spacingAndGlyphs">pheromone effect=0.3, RMSE</text><text x="423.35" y="243.30" font-family="Liberation Serif, serif" fill="#303030" font-size="11.6" textLength="9.6" lengthAdjust="spacingAndGlyphs">=</text><text x="436.1" y="243.30" font-family="Liberation Serif, serif" fill="#303030" font-size="11.6" textLength="48.6" lengthAdjust="spacingAndGlyphs">9.012e-05</text><text x="271" y="257.30" font-family="Liberation Serif, serif" fill="#303030" font-size="11.6" textLength="148.6" lengthAdjust="spacingAndGlyphs">pheromone effect=0.4, RMSE</text><text x="423.35" y="257.30" font-family="Liberation Serif, serif" fill="#303030" font-size="11.6" textLength="9.6" lengthAdjust="spacingAndGlyphs">=</text><text x="436.1" y="257.30" font-family="Liberation Serif, serif" fill="#303030" font-size="11.6" textLength="53.9" lengthAdjust="spacingAndGlyphs">9.0146e-05</text><text x="271" y="271.30" font-family="Liberation Serif, serif" fill="#303030" font-size="11.6" textLength="148.6" lengthAdjust="spacingAndGlyphs">pheromone effect=0.5, RMSE</text><text x="423.35" y="271.30" font-family="Liberation Serif, serif" fill="#303030" font-size="11.6" textLength="9.6" lengthAdjust="spacingAndGlyphs">=</text><text x="436.1" y="271.30" font-family="Liberation Serif, serif" fill="#303030" font-size="11.6" textLength="53.9" lengthAdjust="spacingAndGlyphs">9.0071e-05</text><text x="271" y="285.30" font-family="Liberation Serif, serif" fill="#303030" font-size="11.6" textLength="148.6" lengthAdjust="spacingAndGlyphs">pheromone effect=0.6, RMSE</text><text x="423.35" y="285.30" font-family="Liberation Serif, serif" fill="#303030" font-size="11.6" textLength="9.6" lengthAdjust="spacingAndGlyphs">=</text><text x="436.1" y="285.30" font-family="Liberation Serif, serif" fill="#303030" font-size="11.6" textLength="53.9" lengthAdjust="spacingAndGlyphs">9.0146e-05</text></g>
</g>
</svg>
</body></html>
